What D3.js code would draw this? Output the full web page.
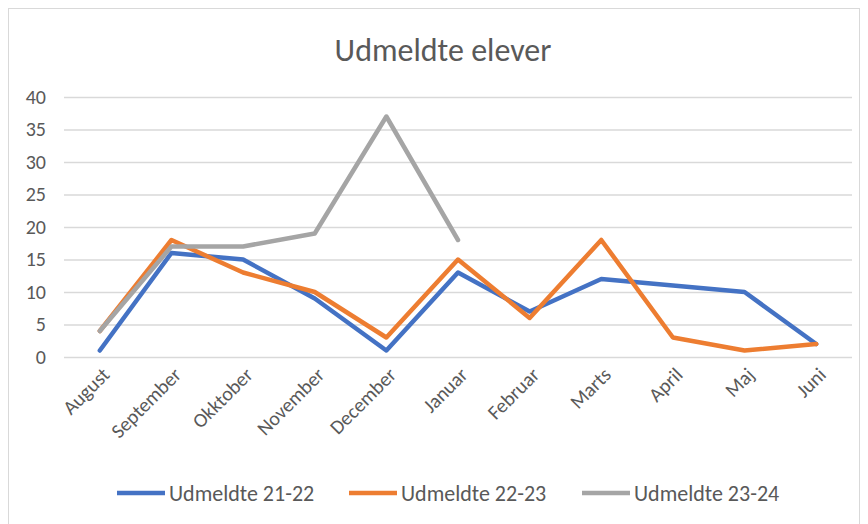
<!DOCTYPE html>
<html>
<head>
<meta charset="utf-8">
<script src="https://cdn.jsdelivr.net/npm/d3@7"></script>
<style>
  body { margin: 0; background: #fff; }
  text { font-family: Carlito, "Liberation Sans Narrow", "Liberation Sans", sans-serif; fill: #595959; }
</style>
</head>
<body>
<div class="container"></div>
<script>
  // chart data
  var months = ["August", "September", "Okktober", "November", "December", "Januar", "Februar", "Marts", "April", "Maj", "Juni"];
  var udm2122 = [1, 16, 15, 9, 1, 13, 7, 12, 11, 10, 2];
  var udm2223 = [4, 18, 13, 10, 3, 15, 6, 18, 3, 1, 2];
  var udm2324 = [4, 17, 17, 19, 37, 18];
  var seriesNames = ["Udmeldte 21-22", "Udmeldte 22-23", "Udmeldte 23-24"];
  var seriesColors = ["#4472C4", "#ED7D31", "#A5A5A5"];
  var yTicks = [0, 5, 10, 15, 20, 25, 30, 35, 40];

  var w = 868, h = 524;
  var svg = d3.select(".container").append("svg").attr("width", w).attr("height", h);

  // frame
  svg.append("rect").attr("x", 8.5).attr("y", 8.5).attr("width", 851).attr("height", 520)
    .attr("fill", "#fff").attr("stroke", "#d9d9d9");

  svg.append("text").attr("x", 443).attr("y", 61).attr("text-anchor", "middle")
    .style("font-size", "32px").text("Udmeldte elever");

  var x = d3.scaleBand().domain(months).range([64, 852]);
  var y = d3.scaleLinear().domain([0, 40]).range([357, 97]);

  // gridlines
  svg.append("g").selectAll("line").data(yTicks).enter().append("line")
    .attr("x1", 64).attr("x2", 852)
    .attr("y1", function(d){ return y(d) + 0.5; })
    .attr("y2", function(d){ return y(d) + 0.5; })
    .attr("stroke", "#d9d9d9").attr("stroke-width", 1.5);

  // y axis labels
  var yAxis = d3.axisLeft(y).tickValues(yTicks).tickSize(0).tickPadding(0);
  var gy = svg.append("g").attr("transform", "translate(46,0)").call(yAxis);
  gy.select(".domain").remove();
  gy.selectAll("text").style("font-size", "20px").attr("fill", "#595959");

  // x axis labels
  var xAxis = d3.axisBottom(x).tickSize(0).tickPadding(0);
  var gx = svg.append("g").attr("transform", "translate(0,376)").call(xAxis);
  gx.select(".domain").remove();
  gx.selectAll("text").style("font-size", "20px").attr("fill", "#595959")
    .attr("text-anchor", "end").attr("dy", 0).attr("y", 0)
    .attr("transform", "translate(11,0) rotate(-45)");

  var line = d3.line()
    .x(function(d, i){ return x(months[i]) + x.bandwidth() / 2; })
    .y(function(d){ return y(d); });

  [udm2122, udm2223, udm2324].forEach(function(s, i){
    svg.append("path").datum(s).attr("d", line)
      .attr("fill", "none").attr("stroke", seriesColors[i])
      .attr("stroke-width", 4.5).attr("stroke-linejoin", "round").attr("stroke-linecap", "round");
  });

  // legend
  var legX = [117, 349, 582];
  seriesNames.forEach(function(n, i){
    svg.append("line").attr("x1", legX[i]).attr("x2", legX[i] + 48)
      .attr("y1", 493).attr("y2", 493)
      .attr("stroke", seriesColors[i]).attr("stroke-width", 4.5);
    svg.append("text").attr("x", legX[i] + 52).attr("y", 501)
      .style("font-size", "22px").text(n);
  });
</script>
</body>
</html>
